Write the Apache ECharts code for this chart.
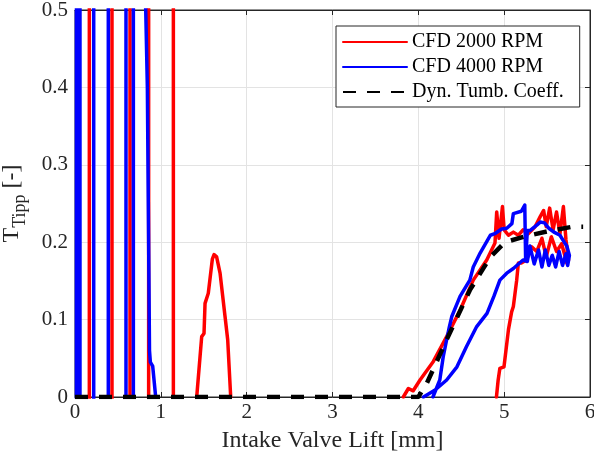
<!DOCTYPE html>
<html>
<head>
<meta charset="utf-8">
<script src="https://cdn.jsdelivr.net/npm/echarts/dist/echarts.min.js"></script>
<style>
  html, body { margin: 0; padding: 0; background: #fff; }
  #chart { width: 594px; height: 461px; }
</style>
</head>
<body>
<div id="chart"></div>
<script>
// Tumble coefficient vs. intake valve lift: two CFD runs and the dynamic tumble coefficient.
const FONT = '"Liberation Serif", "Times New Roman", Times, serif';
const INK = '#262626';

// Axis ranges / tick spacing
const liftRange = [0, 6];
const liftStep = 1;
const tumbleRange = [0, 0.5];
const tumbleStep = 0.1;

// Values far outside the plotted range (the solution oscillates wildly at small lift)
const OFF = 5;

// CFD 2000 RPM
const red2000SpikeLift = [0.167, 0.431, 0.641, 0.858, 1.146];
const red2000Bump = [
  [1.418, 0], [1.476, 0.078], [1.503, 0.082], [1.515, 0.121], [1.553, 0.134],
  [1.60, 0.178], [1.62, 0.184], [1.65, 0.181], [1.69, 0.16], [1.748, 0.104],
  [1.779, 0.074], [1.814, 0]
];
const red2000Loop = [
  [3.825, 0], [3.884, 0.011], [3.94, 0.008], [4.02, 0.022], [4.175, 0.046],
  [4.33, 0.078], [4.486, 0.112], [4.64, 0.151], [4.797, 0.177], [4.893, 0.199],
  [4.913, 0.239], [4.94, 0.205], [4.98, 0.246], [5.0, 0.216], [5.05, 0.209],
  [5.107, 0.213], [5.165, 0.209], [5.22, 0.216], [5.28, 0.211], [5.36, 0.22],
  [5.42, 0.233], [5.46, 0.241], [5.49, 0.22], [5.53, 0.244], [5.57, 0.216],
  [5.61, 0.239], [5.65, 0.211], [5.69, 0.246], [5.72, 0.203], [5.75, 0.177],
  [5.73, 0.173], [5.67, 0.198], [5.61, 0.188], [5.55, 0.207], [5.49, 0.181],
  [5.44, 0.205], [5.38, 0.188], [5.32, 0.194], [5.26, 0.177], [5.20, 0.173],
  [5.165, 0.173], [5.146, 0.151], [5.107, 0.117], [5.087, 0.11], [5.05, 0.087],
  [4.998, 0.039], [4.95, 0.037], [4.93, 0.022], [4.91, 0]
];

// CFD 4000 RPM
const blue4000SpikeLift = [0.017, 0.058, 0.218, 0.388, 0.594, 0.68];
const blue4000Slant = [
  [0.786, 0.7], [0.824, 0.5], [0.843, 0.4], [0.868, 0.06], [0.878, 0.045],
  [0.905, 0.04], [0.94, 0]
];
const blue4000Loop = [
  [4.17, 0], [4.25, 0.022], [4.29, 0.052], [4.33, 0.074], [4.36, 0.09],
  [4.39, 0.104], [4.486, 0.13], [4.60, 0.151], [4.64, 0.168], [4.72, 0.186],
  [4.84, 0.209], [4.89, 0.211], [4.97, 0.217], [5.03, 0.218], [5.09, 0.224],
  [5.107, 0.237], [5.20, 0.240], [5.24, 0.248], [5.25, 0.177], [5.27, 0.215],
  [5.30, 0.215], [5.38, 0.222], [5.42, 0.226], [5.47, 0.225], [5.52, 0.218],
  [5.58, 0.213], [5.65, 0.209], [5.70, 0.20], [5.73, 0.195], [5.76, 0.183],
  [5.74, 0.17], [5.72, 0.185], [5.68, 0.17], [5.64, 0.188], [5.60, 0.168],
  [5.56, 0.183], [5.52, 0.17], [5.48, 0.19], [5.44, 0.168], [5.40, 0.19],
  [5.35, 0.172], [5.30, 0.195], [5.27, 0.175], [5.22, 0.177], [5.107, 0.166],
  [5.03, 0.160], [4.95, 0.151], [4.88, 0.13], [4.80, 0.108], [4.68, 0.091],
  [4.56, 0.065], [4.45, 0.039], [4.33, 0.022], [4.195, 0.009], [4.06, 0]
];

// Dyn. Tumb. Coeff.
const dynTumble = [
  [0, 0], [4.0, 0], [4.10, 0.018], [4.33, 0.074], [4.60, 0.138], [4.84, 0.181],
  [5.01, 0.20], [5.23, 0.207], [5.50, 0.214], [5.80, 0.22], [5.92, 0.22]
];

const NAME_2000 = 'CFD 2000 RPM';
const NAME_4000 = 'CFD 4000 RPM';
const NAME_DYN = 'Dyn. Tumb. Coeff.';

// Full-height strokes: alternate going up and down, joined outside the plot
function spikes(lifts) {
  const pts = [];
  lifts.forEach((x, i) => {
    const a = i % 2 === 0 ? -OFF : OFF;
    pts.push([x, a], [x, -a]);
  });
  return pts;
}

function curve(name, data, color, z, extra) {
  return Object.assign({
    name, type: 'line', data, z,
    symbol: 'none', showSymbol: false, clip: true, silent: true,
    lineStyle: { color, width: 3.5, cap: 'round', join: 'round' },
    itemStyle: { color }
  }, extra || {});
}

const RED = '#ff0000';
const BLUE = '#0000ff';

const series = [
  curve(NAME_2000, spikes(red2000SpikeLift), RED, 2),
  curve(NAME_2000, red2000Bump, RED, 2),
  curve(NAME_2000, red2000Loop, RED, 2),
  curve(NAME_4000, spikes(blue4000SpikeLift), BLUE, 3),
  curve(NAME_4000, blue4000Slant, BLUE, 3),
  curve(NAME_4000, blue4000Loop, BLUE, 3),
  {
    name: NAME_DYN, type: 'line', data: dynTumble, z: 4,
    symbol: 'none', showSymbol: false, clip: true, silent: true,
    lineStyle: { color: '#000', width: 4.5, type: [13, 11], cap: 'butt' },
    itemStyle: { color: '#000' }
  }
];

const gridLine = { show: true, lineStyle: { color: '#e3e3e3', width: 1 } };
const axisLine = { show: true, onZero: false, lineStyle: { color: INK, width: 1 } };
const ticksIn = { show: true, inside: true, length: 5, lineStyle: { color: INK, width: 1 } };

const option = {
  animation: false,
  backgroundColor: '#fff',
  grid: {
    left: 75, right: 4, top: 10, bottom: 64,
    containLabel: false, outerBoundsMode: 'none',
    show: true, borderColor: INK, borderWidth: 1, backgroundColor: 'transparent'
  },
  legend: {
    data: [NAME_2000, NAME_4000, NAME_DYN],
    orient: 'vertical',
    left: 336, top: 26,
    itemWidth: 64, itemHeight: 14, itemGap: 5,
    padding: [6, 16, 5, 6],
    backgroundColor: '#fff',
    borderColor: INK, borderWidth: 1,
    itemStyle: { opacity: 0 },
    textStyle: { fontFamily: FONT, fontSize: 20, color: '#000', lineHeight: 20 },
    selectedMode: false
  },
  xAxis: [
    {
      type: 'value', min: liftRange[0], max: liftRange[1], interval: liftStep,
      name: 'Intake Valve Lift [mm]', nameLocation: 'middle', nameGap: 32,
      nameTextStyle: { fontFamily: FONT, fontSize: 24, color: INK },
      axisLine, axisTick: ticksIn, splitLine: gridLine,
      axisLabel: { fontFamily: FONT, fontSize: 21, color: INK, margin: 5 }
    },
    {
      type: 'value', position: 'top', min: liftRange[0], max: liftRange[1], interval: liftStep,
      axisLine, axisTick: ticksIn, splitLine: { show: false }, axisLabel: { show: false }
    }
  ],
  yAxis: [
    {
      type: 'value', min: tumbleRange[0], max: tumbleRange[1], interval: tumbleStep,
      name: '{t|T}{s|Tipp}{t| [-]}', nameLocation: 'middle', nameGap: 46, nameRotate: 90,
      nameTextStyle: {
        fontFamily: FONT, color: INK,
        rich: {
          t: { fontFamily: FONT, fontSize: 24, color: INK, lineHeight: 34, verticalAlign: 'middle' },
          s: { fontFamily: FONT, fontSize: 18, color: INK, lineHeight: 34, verticalAlign: 'bottom' }
        }
      },
      axisLine, axisTick: ticksIn, splitLine: gridLine,
      axisLabel: {
        fontFamily: FONT, fontSize: 21, color: INK, margin: 7,
        formatter: v => String(Math.round(v * 10) / 10)
      }
    },
    {
      type: 'value', position: 'right', min: tumbleRange[0], max: tumbleRange[1], interval: tumbleStep,
      axisLine, axisTick: ticksIn, splitLine: { show: false }, axisLabel: { show: false }
    }
  ],
  series
};

const chart = echarts.init(document.getElementById('chart'), null, { renderer: 'canvas' });
chart.setOption(option);
</script>
</body>
</html>
